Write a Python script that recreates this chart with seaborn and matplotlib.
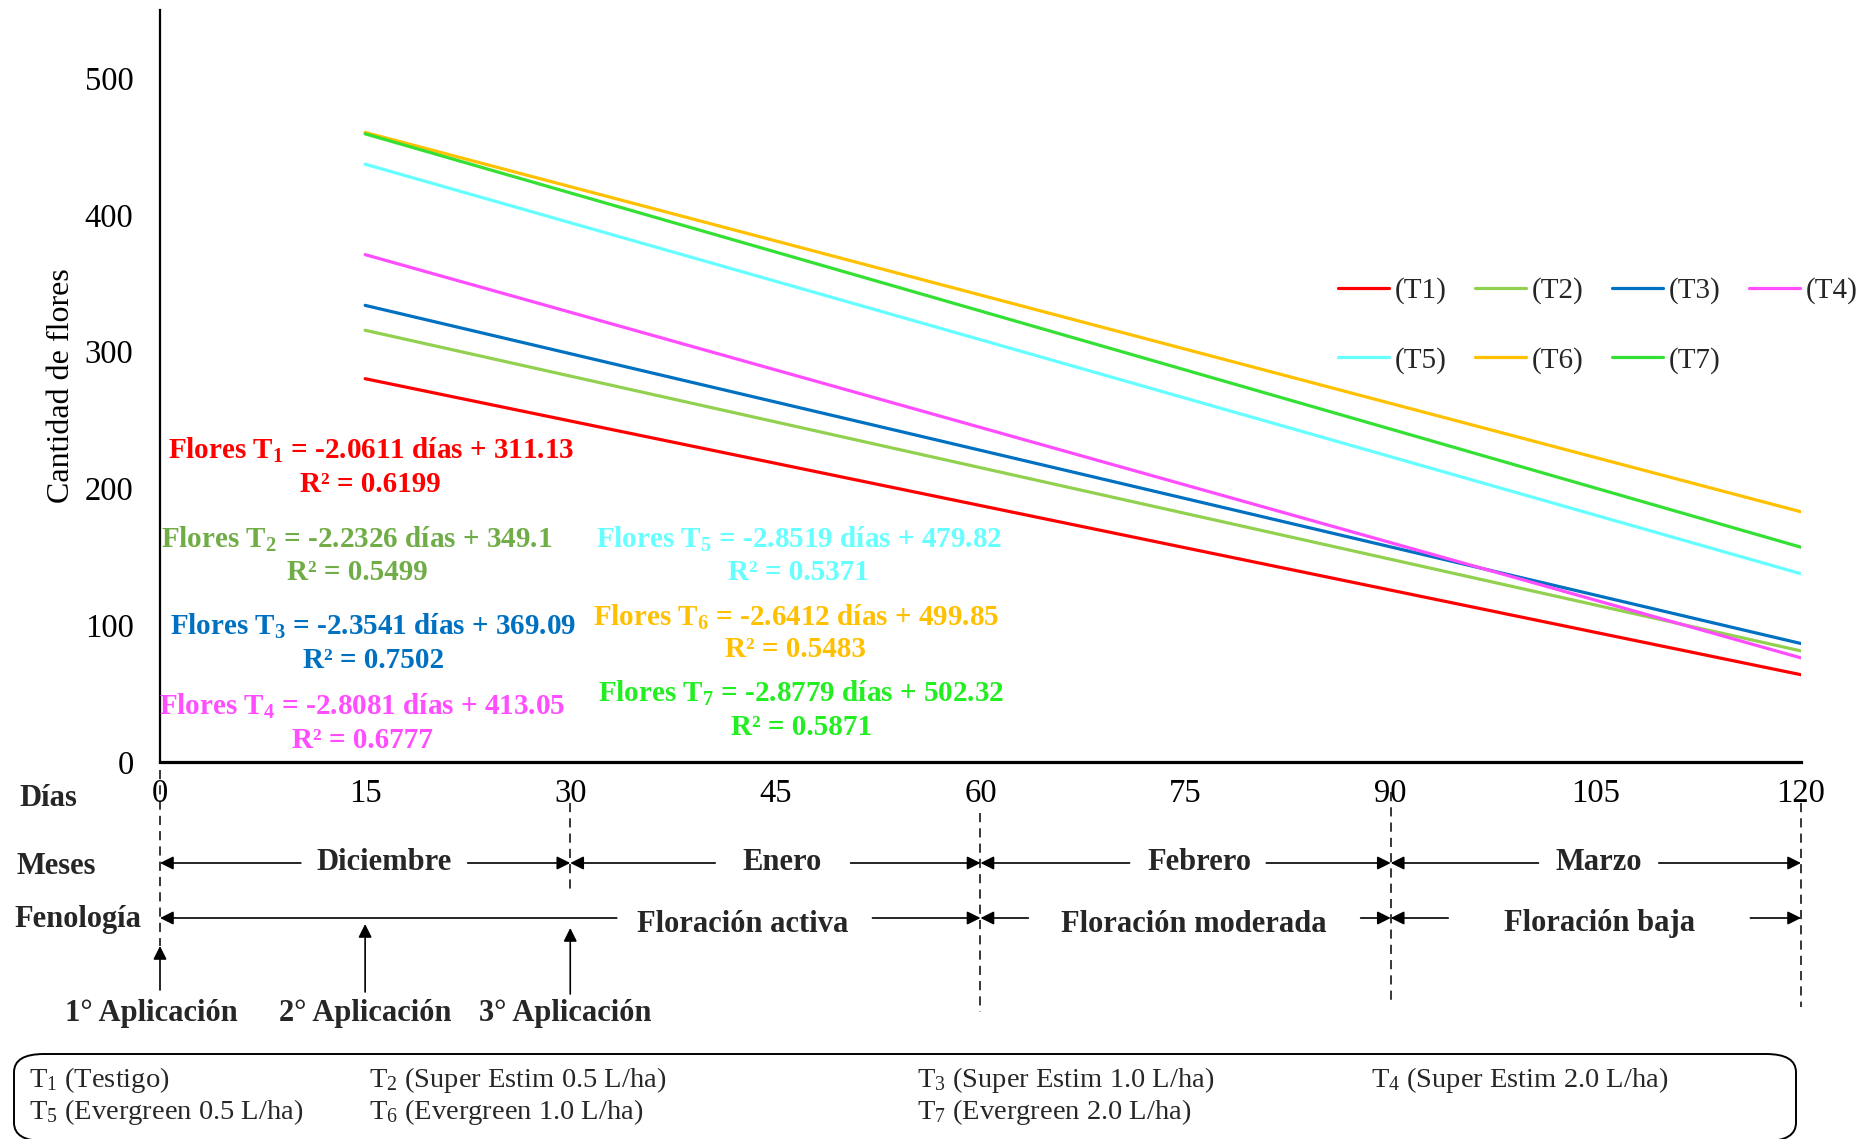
import matplotlib
matplotlib.use("Agg")
import numpy as np
import pandas as pd
import matplotlib.pyplot as plt
import seaborn as sns
import matplotlib.transforms as mtransforms
from matplotlib.patches import FancyArrowPatch, FancyBboxPatch
from matplotlib.lines import Line2D

# ---------------- data ----------------
treatments = ["T1", "T2", "T3", "T4", "T5", "T6", "T7"]
legend_labels = ["(T1)", "(T2)", "(T3)", "(T4)", "(T5)", "(T6)", "(T7)"]
days = [15, 120]
flores_dia15 = [280.2, 315.6, 333.8, 370.9, 437.0, 460.2, 459.2]
flores_dia120 = [63.8, 81.2, 86.6, 76.1, 137.6, 182.9, 157.0]
line_colors = ["#FF0000", "#92D050", "#0070C0", "#FF4DFF", "#66FFFF", "#FFC000", "#33E033"]
text_colors = ["#FF0000", "#70AD47", "#0070C0", "#FF4DFF", "#66FFFF", "#FFC000", "#22EE22"]
slopes = ["-2.0611", "-2.2326", "-2.3541", "-2.8081", "-2.8519", "-2.6412", "-2.8779"]
intercepts = ["311.13", "349.1", "369.09", "413.05", "479.82", "499.85", "502.32"]
r2_values = ["0.6199", "0.5499", "0.7502", "0.6777", "0.5371", "0.5483", "0.5871"]
x_ticks = [0, 15, 30, 45, 60, 75, 90, 105, 120]
y_ticks = [0, 100, 200, 300, 400, 500]
months = ["Diciembre", "Enero", "Febrero", "Marzo"]
month_bounds = [0, 30, 60, 90, 120]
phases = ["Floración activa", "Floración moderada", "Floración baja"]
phase_bounds = [0, 60, 90, 120]
applications = ["1° Aplicación", "2° Aplicación", "3° Aplicación"]
application_days = [0, 15, 30]
box_labels = [
    ["T$_1$ (Testigo)", "T$_2$ (Super Estim 0.5 L/ha)", "T$_3$ (Super Estim 1.0 L/ha)", "T$_4$ (Super Estim 2.0 L/ha)"],
    ["T$_5$ (Evergreen 0.5 L/ha)", "T$_6$ (Evergreen 1.0 L/ha)", "T$_7$ (Evergreen 2.0 L/ha)"],
]

rows = []
for t, a, b in zip(treatments, flores_dia15, flores_dia120):
    rows.append({"Días": days[0], "Flores": a, "Tratamiento": t})
    rows.append({"Días": days[1], "Flores": b, "Tratamiento": t})
df = pd.DataFrame(rows)

# ---------------- style ----------------
sns.set_theme(style="white")
plt.rcParams["font.family"] = ["Liberation Serif", "DejaVu Serif"]
plt.rcParams["mathtext.fontset"] = "custom"
plt.rcParams["mathtext.rm"] = "Liberation Serif"
plt.rcParams["mathtext.bf"] = "Liberation Serif:bold"
plt.rcParams["mathtext.default"] = "regular"

W, H = 1874, 1139
fig = plt.figure(figsize=(W / 100, H / 100), dpi=100)
fig.patch.set_facecolor("white")
ax = fig.add_axes([160 / W, 1 - 762 / H, 1641 / W, (762 - 9.6) / H])


def fy(py):
    return 1 - py / H


def fx(px):
    return px / W


sns.lineplot(data=df, x="Días", y="Flores", hue="Tratamiento", palette=line_colors,
             linewidth=2.3, ax=ax, legend=False)

ax.set_xlim(0, 120)
ax.set_ylim(0, 550)
ax.set_xticks(x_ticks)
ax.set_xticklabels([str(v) for v in x_ticks], fontsize=23.5)
ax.set_yticks(y_ticks)
ax.set_yticklabels([str(v) for v in y_ticks], fontsize=23.5)
ax.tick_params(axis="x", length=0, pad=12, colors="black")
ax.tick_params(axis="y", length=0, pad=19, colors="black")
ax.set_xlabel("")
ax.set_ylabel("Cantidad de flores", fontsize=23, color="black", labelpad=6)
for s in ["top", "right"]:
    ax.spines[s].set_visible(False)
ax.spines["left"].set_linewidth(1.6)
ax.spines["bottom"].set_linewidth(2.3)
ax.spines["left"].set_color("black")
ax.spines["bottom"].set_color("black")
ax.grid(False)

# legend (row-major order for 4 columns)
order = [0, 4, 1, 5, 2, 6, 3]
handles = [Line2D([], [], color=line_colors[i], lw=2.3) for i in order]
labels = [legend_labels[i] for i in order]
ax.legend(handles, labels, ncol=4, loc="upper left", frameon=False,
          bbox_to_anchor=(fx(1338), fy(277.5)), bbox_transform=fig.transFigure,
          fontsize=21, handlelength=1.75, handletextpad=0.2, columnspacing=0.97,
          labelspacing=1.45, borderpad=0, borderaxespad=0)

# equations
eq_pos = [(15.4, 227.5, 202.8), (14.4, 162.7, 138.6), (15.6, 99.2, 74.4), (14.8, 40.8, 16.0),
          (46.7, 162.7, 138.6), (46.5, 105.8, 82.4), (46.9, 50.3, 25.5)]
for i, (x, y1, y2) in enumerate(eq_pos):
    ax.text(x, y1, "Flores T$_\\mathbf{%d}$ = %s días + %s" % (i + 1, slopes[i], intercepts[i]),
            color=text_colors[i], fontsize=21, fontweight="bold", ha="center", va="center",
            clip_on=False)
    ax.text(x, y2, "R² = %s" % r2_values[i], color=text_colors[i], fontsize=21,
            fontweight="bold", ha="center", va="center", clip_on=False)

# ---------------- annotations below the axis ----------------
trans = mtransforms.blended_transform_factory(ax.transData, fig.transFigure)

fig.text(fx(48), fy(798), "Días", fontsize=22, fontweight="bold", ha="center", va="center")
fig.text(fx(56), fy(866), "Meses", fontsize=22, fontweight="bold", ha="center", va="center")
fig.text(fx(78), fy(920), "Fenología", fontsize=22, fontweight="bold", ha="center", va="center")

# dashed guide lines
dash_spans = {0: (770, 946), 30: (803, 890), 60: (813, 1012), 90: (792, 1002), 120: (803, 1007)}
for xv, (a, b) in dash_spans.items():
    fig.add_artist(Line2D([xv, xv], [fy(a), fy(b)], transform=trans, color="black",
                          lw=1.1, linestyle=(0, (6, 4))))


def arrow(x0, y0, x1, y1):
    p = FancyArrowPatch((x0, fy(y0)), (x1, fy(y1)), transform=trans, arrowstyle="-|>",
                        mutation_scale=20, color="black", lw=1.2, shrinkA=0, shrinkB=0)
    fig.add_artist(p)


# months row
month_gaps = [(10.3, 22.5), (40.6, 50.5), (70.9, 80.9), (100.8, 109.6)]
month_text_x = [16.4, 45.5, 76.0, 105.2]
y_m = 863
for k, name in enumerate(months):
    g0, g1 = month_gaps[k]
    arrow(g0, y_m, month_bounds[k], y_m)
    arrow(g1, y_m, month_bounds[k + 1], y_m)
    ax.text(month_text_x[k], fy(y_m), name, transform=trans, fontsize=22, fontweight="bold",
            ha="center", va="center", clip_on=False)

# phenology row
phase_gaps = [(33.4, 52.1), (63.5, 87.8), (94.2, 116.3)]
phase_text_x = [42.6, 75.6, 105.3]
y_f = 918
for k, name in enumerate(phases):
    g0, g1 = phase_gaps[k]
    arrow(g0, y_f, phase_bounds[k], y_f)
    arrow(g1, y_f, phase_bounds[k + 1], y_f)
    ax.text(phase_text_x[k], fy(y_f + 6), name, transform=trans, fontsize=22, fontweight="bold",
            ha="center", va="center", clip_on=False)

# application arrows
app_spans = [(990, 946), (992, 924), (994, 928)]
app_text_x = [-0.6, 15.0, 29.6]
for k, d in enumerate(application_days):
    a, b = app_spans[k]
    arrow(d, a, d, b)
    ax.text(app_text_x[k], fy(1013), applications[k], transform=trans, fontsize=22,
            fontweight="bold", ha="center", va="center", clip_on=False)

# bottom box
box = FancyBboxPatch((fx(14), fy(1141)), fx(1796) - fx(14), fy(1054) - fy(1141),
                     boxstyle="round,pad=0,rounding_size=0.016", transform=fig.transFigure,
                     facecolor="none", edgecolor="black", lw=1.4)
fig.add_artist(box)
col_x = [29, 369, 917, 1371]
row_y = [1080, 1112]
for r, row in enumerate(box_labels):
    for c, lab in enumerate(row):
        fig.text(fx(col_x[c]), fy(row_y[r]), lab, fontsize=20.5, ha="left", va="center")

fig.savefig("out.png", dpi=100, facecolor="white")
